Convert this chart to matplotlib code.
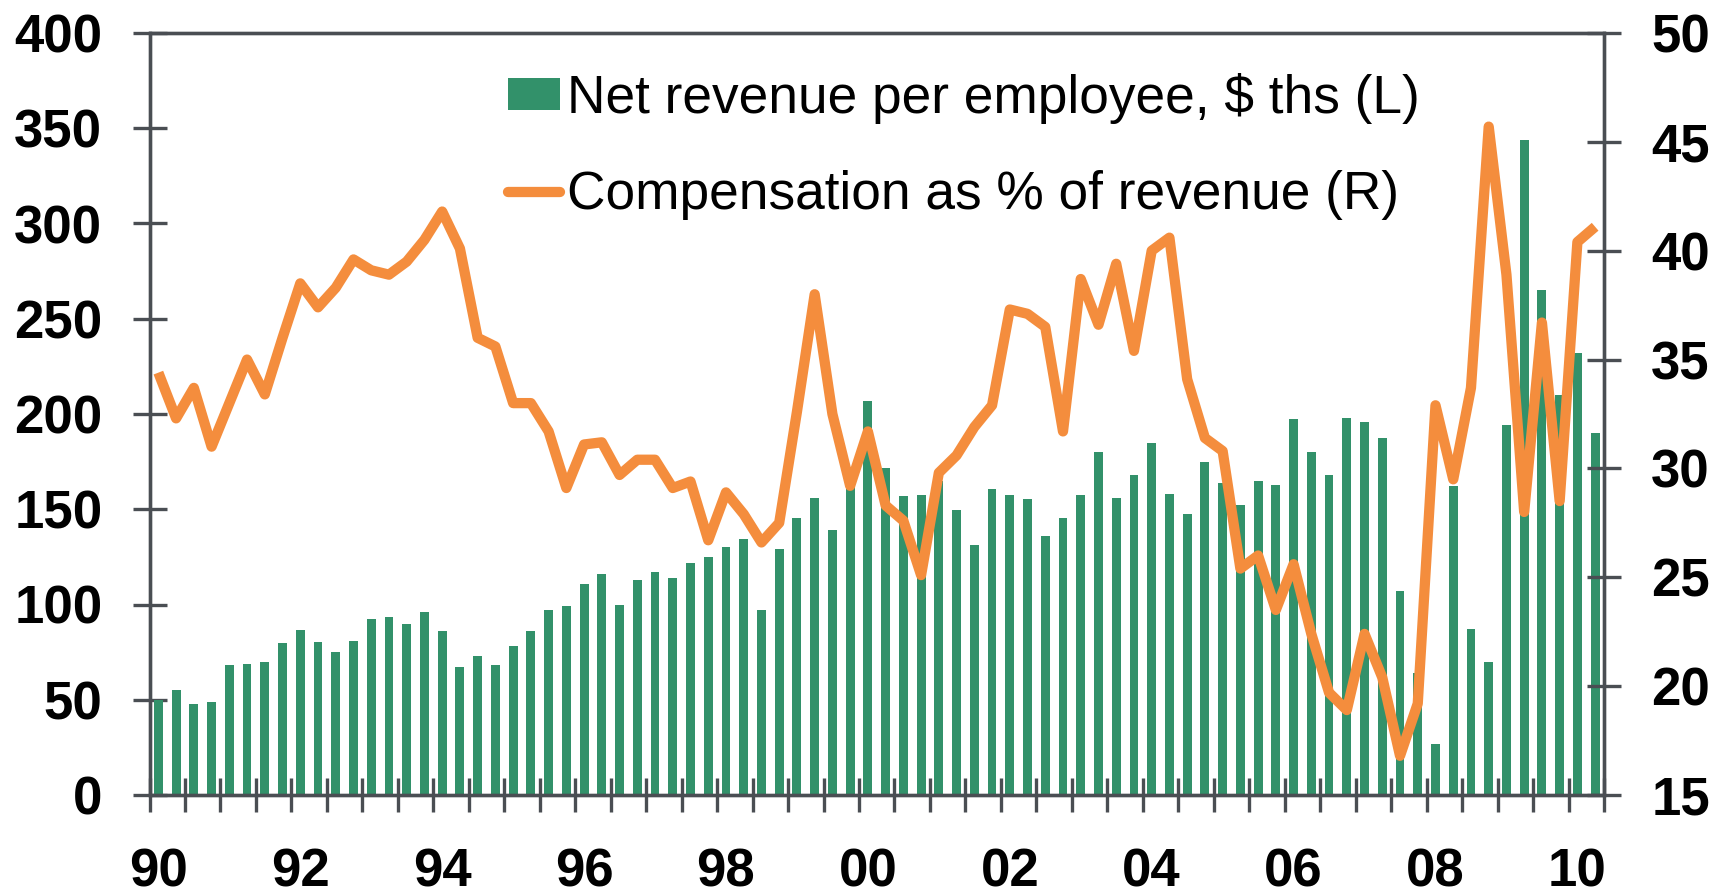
import matplotlib.pyplot as plt
from matplotlib.patches import Patch
from matplotlib.lines import Line2D
import numpy as np

plt.switch_backend("agg")
plt.rcParams["font.family"] = ["Liberation Sans", "DejaVu Sans"]

# quarterly data, 1990 Q1 .. 2010 Q2
revenue = [50, 55, 48, 49, 68, 69, 70, 80, 86.5, 80.5,
           75, 81, 92.5, 93.5, 90, 96, 86, 67, 73, 68,
           78, 86, 97, 99, 111, 116, 100, 113, 117, 114,
           122, 125, 130, 134.5, 97, 129, 145.5, 156, 139, 162,
           207, 171.5, 157, 157.5, 165, 149.5, 131, 160.7, 157.7, 155.6,
           136, 145.6, 157.7, 180, 156, 168, 185, 158, 147.7, 175,
           163.7, 152, 164.6, 162.8, 197.6, 180, 168, 198, 195.8, 187.4,
           107, 64, 27, 162, 87, 69.7, 194.3, 344, 265, 210,
           232, 190]
comp_pct = [34.4, 32.3, 33.7, 31.0, 33.0, 35.0, 33.4, 36.0, 38.5, 37.4,
            38.3, 39.6, 39.1, 38.9, 39.5, 40.5, 41.8, 40.1, 36.0, 35.6,
            33.0, 33.0, 31.7, 29.1, 31.1, 31.2, 29.7, 30.4, 30.4, 29.1,
            29.4, 26.7, 28.9, 27.9, 26.6, 27.5, 32.6, 38.0, 32.5, 29.2,
            31.7, 28.3, 27.6, 25.1, 29.8, 30.6, 31.9, 32.9, 37.3, 37.1,
            36.5, 31.7, 38.7, 36.6, 39.4, 35.4, 40.0, 40.6, 34.1, 31.4,
            30.8, 25.4, 26.0, 23.5, 25.6, 22.4, 19.7, 18.9, 22.4, 20.4,
            16.8, 19.2, 32.9, 29.5, 33.7, 45.7, 38.9, 28.0, 36.7, 28.5,
            40.4, 41.1]
year_labels = ["90", "92", "94", "96", "98", "00", "02", "04", "06", "08", "10"]

green = "#32916A"
orange = "#F48D3D"
axis_col = "#4A4E53"

x = np.arange(len(revenue))

fig = plt.figure(figsize=(17.23, 8.96), dpi=100)
ax = fig.add_axes([149.5 / 1723, 1 - 795 / 896, (1604 - 149.5) / 1723, (795 - 33) / 896])
ax2 = ax.twinx()

ax.bar(x, revenue, width=0.5, color=green, zorder=2)
ax2.plot(x, comp_pct, color=orange, lw=7.4, solid_joinstyle="round",
         solid_capstyle="butt", zorder=3)

ax.set_xlim(-0.5, len(revenue) - 0.5)
ax.set_ylim(0, 400)
ax.set_yticks(np.arange(0, 401, 50))
ax2.set_ylim(15, 50)
ax2.set_yticks(np.arange(15, 51, 5))

# tick marks on half-year boundaries, labels every other January
ax.set_xticks(np.arange(-0.5, len(revenue), 2))
ax.set_xticklabels([])
ax.set_xticks(np.arange(0, len(revenue), 8), minor=True)
ax.set_xticklabels(year_labels, minor=True)

for a in (ax, ax2):
    for s in a.spines.values():
        s.set_color(axis_col)
        s.set_linewidth(2.4)
ax.tick_params(axis="both", which="major", direction="inout", length=24,
               width=2.4, color=axis_col)
ax.tick_params(axis="x", which="minor", length=0, pad=38,
               labelsize=38, labelcolor="black")
ax.tick_params(axis="y", labelsize=38, pad=22)
ax2.tick_params(axis="y", direction="inout", length=24, width=2.4,
                color=axis_col, labelsize=38, pad=22)
for lab in ax.get_xticklabels(minor=True) + ax.get_yticklabels() + ax2.get_yticklabels():
    lab.set_fontweight("bold")

handles = [Patch(facecolor=green, edgecolor="none"),
           Line2D([0], [0], color=orange, lw=7.4, solid_capstyle="round")]
labels = ["Net revenue per employee, $ ths (L)",
          "Compensation as % of revenue (R)"]
fig.legend(handles, labels, loc="upper left",
           bbox_to_anchor=(508 / 1723, 1 - 73 / 896), frameon=False,
           fontsize=38.3, handlelength=0.98, handleheight=0.55,
           handletextpad=0.12, labelspacing=0.87, borderpad=0, borderaxespad=0)

fig.savefig("out.png", dpi=100)
plt.close(fig)
